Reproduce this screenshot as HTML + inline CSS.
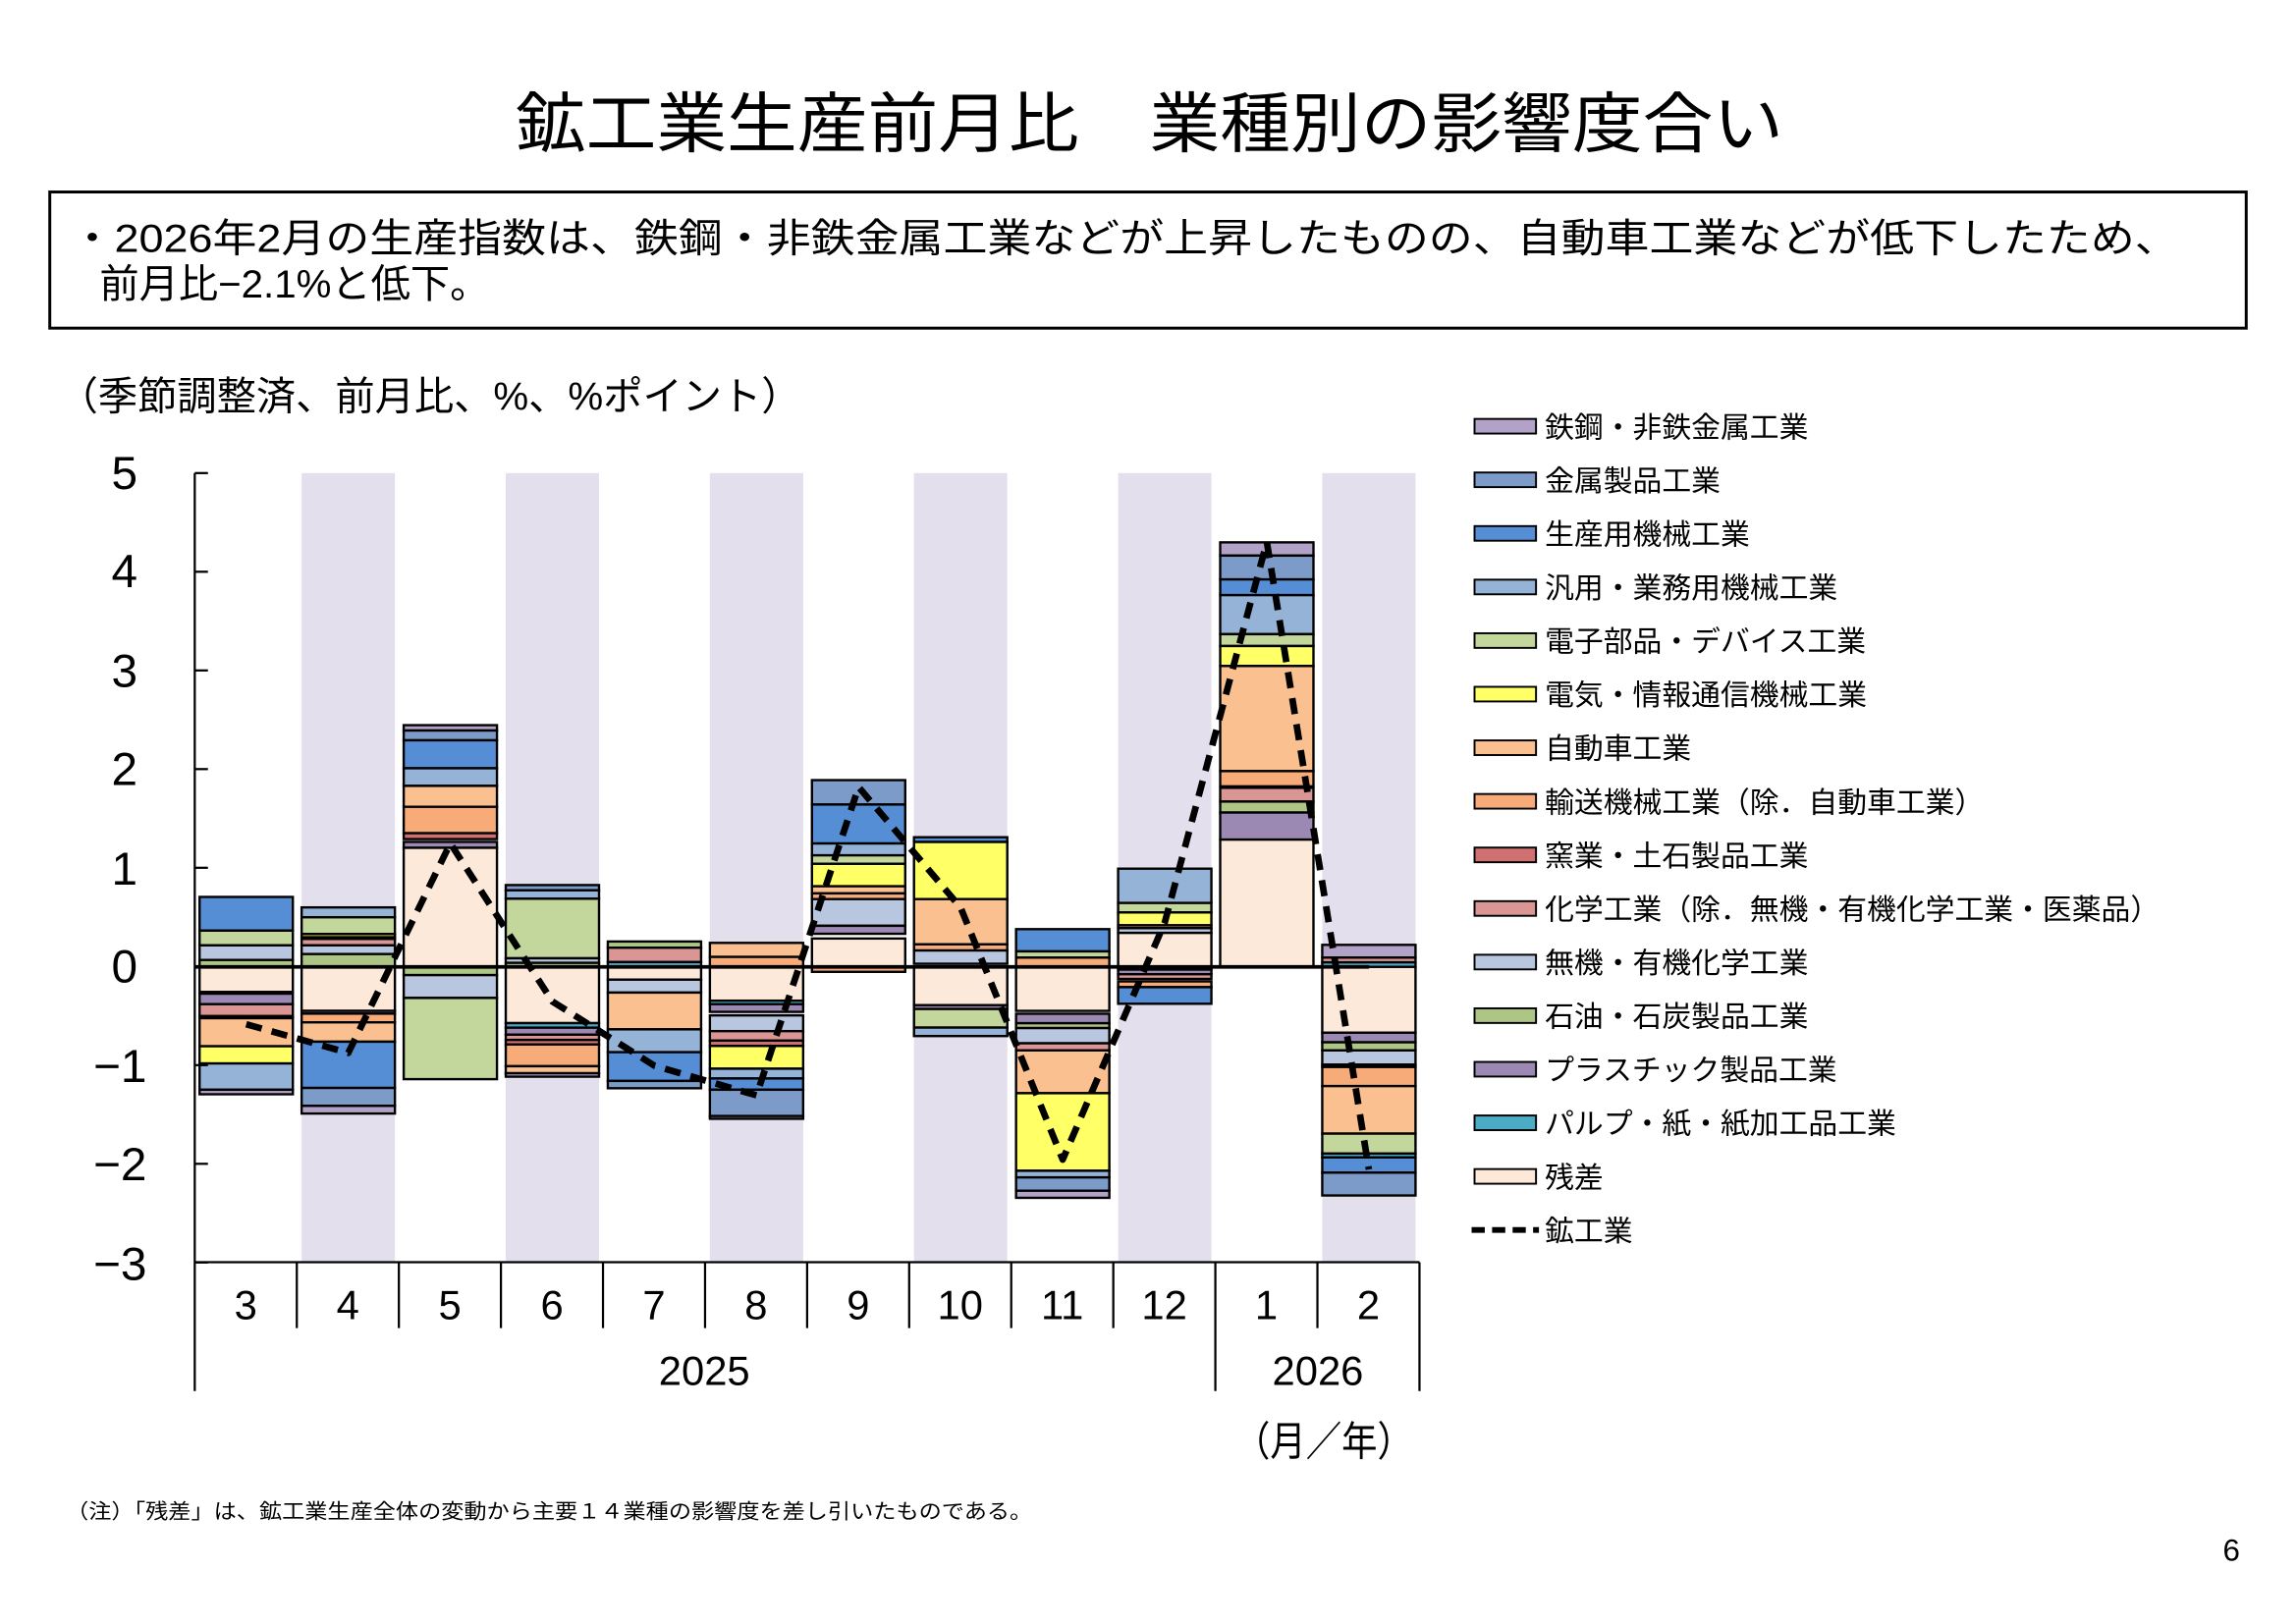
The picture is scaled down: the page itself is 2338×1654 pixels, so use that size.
<!DOCTYPE html>
<html><head><meta charset="utf-8"><style>
html,body{margin:0;padding:0;background:#fff}
svg{display:block}
text{font-family:"Liberation Sans","Noto Sans CJK JP",sans-serif;fill:#000}
</style></head><body>
<svg id="s" width="2338" height="1654" viewBox="0 0 1568 1109" xmlns="http://www.w3.org/2000/svg">
<rect width="1568" height="1109" fill="#fff"/>
<text x="352" y="100" font-size="45" textLength="866" lengthAdjust="spacingAndGlyphs">鉱工業生産前月比　業種別の影響度合い</text>
<rect x="34" y="131" width="1500" height="93" fill="none" stroke="#000" stroke-width="2"/>
<text x="48" y="172" font-size="27" textLength="1440" lengthAdjust="spacingAndGlyphs">・2026年2月の生産指数は、鉄鋼・非鉄金属工業などが上昇したものの、自動車工業などが低下したため、</text>
<text x="68" y="203" font-size="27">前月比−2.1%と低下。</text>
<text x="40" y="280" font-size="27">（季節調整済、前月比、%、%ポイント）</text>
<g id="shade"></g><g id="bars"></g>
<g font-size="32" text-anchor="middle">
<text x="85" y="334">5</text><text x="85" y="401">4</text><text x="85" y="469">3</text><text x="85" y="536">2</text><text x="85" y="604">1</text><text x="85" y="671">0</text><text x="82" y="739">−1</text><text x="82" y="806">−2</text><text x="82" y="874">−3</text>
</g>
<g id="axis" stroke="#000" stroke-width="1.5"></g>
<g font-size="28" text-anchor="middle" id="cats"></g>
<text x="481" y="946" font-size="28" text-anchor="middle">2025</text>
<text x="900" y="946" font-size="28" text-anchor="middle">2026</text>
<text x="843" y="994" font-size="28" textLength="122" lengthAdjust="spacingAndGlyphs">（月／年）</text>
<text x="45" y="1037" font-size="14" textLength="660" lengthAdjust="spacingAndGlyphs">（注）「残差」は、鉱工業生産全体の変動から主要１４業種の影響度を差し引いたものである。</text>
<text x="1518" y="1066" font-size="21">6</text>
<g id="leg" font-size="20"></g>
</svg>
<script>
var C={tk:"#b3a2c7",km:"#7d9bc9",sy:"#558ed5",hy:"#95b3d7",ds:"#c3d69b",dk:"#ffff66",jd:"#fac090",ys:"#f7ab79",yg:"#d07070",kg:"#da9694",mk:"#b9c6e0",sk:"#adc686",pl:"#9b88b3",pp:"#4bacc6",zs:"#fde9d9"};
function Y(v){return 660.3-v*67.5;}
var D=[
[["sy",0.708,0.367],["ds",0.367,0.218],["mk",0.218,0.07],["sk",0.07,0],["zs",0,-0.253],["pl",-0.271,-0.377],["kg",-0.377,-0.498],["yg",-0.498,-0.519],["jd",-0.519,-0.803],["dk",-0.803,-0.977],["hy",-0.977,-1.243],["tk",-1.243,-1.289]],
[["hy",0.602,0.502],["ds",0.502,0.332],["dk",0.332,0.30],["ys",0.30,0.283],["kg",0.283,0.218],["mk",0.218,0.13],["sk",0.13,0],["zs",0,-0.445],["pl",-0.445,-0.473],["ys",-0.473,-0.561],["jd",-0.561,-0.757],["sy",-0.757,-1.225],["km",-1.225,-1.406],["tk",-1.406,-1.484]],
[["tk",2.446,2.392],["km",2.392,2.293],["sy",2.293,2.01],["hy",2.01,1.832],["jd",1.832,1.62],["ys",1.62,1.353],["yg",1.353,1.293],["pl",1.265,1.205],["zs",1.205,0],["sk",0,-0.083],["mk",-0.083,-0.314],["ds",-0.314,-1.136]],
[["km",0.828,0.775],["hy",0.775,0.69],["ds",0.69,0.087],["mk",0.087,0.041],["sk",0.041,0],["zs",0,-0.569],["pp",-0.569,-0.615],["pl",-0.615,-0.686],["kg",-0.686,-0.739],["yg",-0.739,-0.785],["ys",-0.785,-1.005],["jd",-1.005,-1.076],["tk",-1.076,-1.111]],
[["sk",0.257,0.194],["kg",0.194,0.049],["pp",0.049,0],["zs",0,-0.129],["mk",-0.129,-0.26],["jd",-0.26,-0.632],["hy",-0.632,-0.863],["sy",-0.863,-1.154],["km",-1.154,-1.228]],
[["jd",0.243,0.101],["ys",0.101,0],["zs",0,-0.342],["pp",-0.342,-0.377],["pl",-0.377,-0.455],["mk",-0.491,-0.65],["kg",-0.65,-0.746],["yg",-0.746,-0.8],["dk",-0.8,-1.03],["hy",-1.03,-1.129],["sy",-1.129,-1.243],["km",-1.243,-1.509],["tk",-1.509,-1.537]],
[["km",1.89,1.643],["sy",1.643,1.249],["hy",1.249,1.129],["ds",1.129,1.043],["dk",1.043,0.816],["jd",0.816,0.744],["ys",0.744,0.686],["mk",0.686,0.416],["pl",0.416,0.335],["zs",0.287,0],["ys",0,-0.05]],
[["sy",1.312,1.264],["dk",1.264,0.686],["jd",0.686,0.228],["ys",0.228,0.166],["mk",0.166,0.032],["zs",0,-0.387],["pl",-0.387,-0.426],["ds",-0.426,-0.614],["hy",-0.614,-0.7]],
[["sy",0.382,0.157],["ds",0.157,0.094],["ys",0.094,0],["zs",0,-0.445],["pl",-0.474,-0.57],["sk",-0.57,-0.619],["mk",-0.619,-0.773],["kg",-0.773,-0.845],["jd",-0.845,-1.278],["dk",-1.278,-2.063],["hy",-2.063,-2.13],["km",-2.13,-2.265],["tk",-2.265,-2.337]],
[["hy",0.994,0.647],["ds",0.647,0.551],["dk",0.551,0.421],["ys",0.421,0.392],["mk",0.392,0.344],["zs",0.344,0],["pp",0,-0.027],["pl",-0.027,-0.074],["kg",-0.074,-0.122],["ys",-0.147,-0.205],["sy",-0.205,-0.373]],
[["tk",4.296,4.162],["km",4.162,3.921],["sy",3.921,3.762],["hy",3.762,3.367],["ds",3.367,3.247],["dk",3.247,3.045],["jd",3.045,1.981],["ys",1.981,1.827],["kg",1.812,1.673],["sk",1.673,1.562],["pl",1.562,1.288],["zs",1.288,0]],
[["tk",0.223,0.094],["kg",0.094,0.046],["pp",0.046,0],["zs",0,-0.666],["pl",-0.666,-0.763],["sk",-0.763,-0.845],["mk",-0.845,-0.989],["yg",-0.989,-1.013],["ys",-1.013,-1.206],["jd",-1.206,-1.687],["ds",-1.687,-1.889],["pp",-1.889,-1.928],["sy",-1.928,-2.082],["km",-2.082,-2.313]]
];
var line=[-0.58,-0.87,1.25,-0.35,-1.0,-1.3,1.82,0.6,-1.95,0.45,4.3,-2.05];
var NS="http://www.w3.org/2000/svg";
function el(p,t,a){var e=document.createElementNS(NS,t);for(var k in a)e.setAttribute(k,a[k]);p.appendChild(e);return e;}
var sh=document.getElementById("shade"),bg=document.getElementById("bars"),ax=document.getElementById("axis"),cats=document.getElementById("cats"),s=document.getElementById("s");
var bw=63.7,per=69.7,x0=136.3;
for(var i=0;i<12;i++){var x=x0+i*per;
 if(i%2==1)el(sh,"rect",{x:x,y:323,width:bw,height:539,fill:"#e4dfec"});
 var segs=D[i];
 for(var j=0;j<segs.length;j++){var g=segs[j];var a=Y(g[1]),b=Y(g[2]);
  el(bg,"rect",{x:x,y:Math.min(a,b),width:bw,height:Math.abs(b-a),fill:C[g[0]],stroke:"#000","stroke-width":1.6});}
}
el(bg,"line",{x1:133,y1:660.3,x2:935,y2:660.3,stroke:"#000","stroke-width":2.5});
var pts=line.map(function(v,i){return (x0+i*per+bw/2)+","+Y(v)}).join(" ");
el(s,"polyline",{points:pts,fill:"none",stroke:"#000","stroke-width":4.5,"stroke-dasharray":"11 7","stroke-linejoin":"round"});
el(ax,"line",{x1:133,y1:323,x2:133,y2:862});
for(var k=0;k<=8;k++){var yy=323+k*67.4;el(ax,"line",{x1:133,y1:yy,x2:142,y2:yy});}
el(ax,"line",{x1:133,y1:862,x2:969.4,y2:862});
for(var k=0;k<=12;k++){var xx=133+k*69.7;var y2=(k==0||k==10||k==12)?950:907;el(ax,"line",{x1:xx,y1:862,x2:xx,y2:y2});}
var ml=["3","4","5","6","7","8","9","10","11","12","1","2"];
for(var i=0;i<12;i++){var t=el(cats,"text",{x:133+i*69.7+34.85,y:901});t.textContent=ml[i];}
var L=[["tk","鉄鋼・非鉄金属工業"],["km","金属製品工業"],["sy","生産用機械工業"],["hy","汎用・業務用機械工業"],["ds","電子部品・デバイス工業"],["dk","電気・情報通信機械工業"],["jd","自動車工業"],["ys","輸送機械工業（除．自動車工業）"],["yg","窯業・土石製品工業"],["kg","化学工業（除．無機・有機化学工業・医薬品）"],["mk","無機・有機化学工業"],["sk","石油・石炭製品工業"],["pl","プラスチック製品工業"],["pp","パルプ・紙・紙加工品工業"],["zs","残差"]];
var lg=document.getElementById("leg");
for(var i=0;i<L.length;i++){var yy=291+i*36.6;
 el(lg,"rect",{x:1007,y:yy-5,width:42,height:10,fill:C[L[i][0]],stroke:"#000","stroke-width":1.3});
 var t=el(lg,"text",{x:1055,y:yy+7.5});t.textContent=L[i][1];}
var yy=291+15*36.6;
el(lg,"line",{x1:1005,y1:yy,x2:1051,y2:yy,stroke:"#000","stroke-width":4,"stroke-dasharray":"9 5"});
var t=el(lg,"text",{x:1055,y:yy+7.5});t.textContent="鉱工業";
</script>
</body></html>
